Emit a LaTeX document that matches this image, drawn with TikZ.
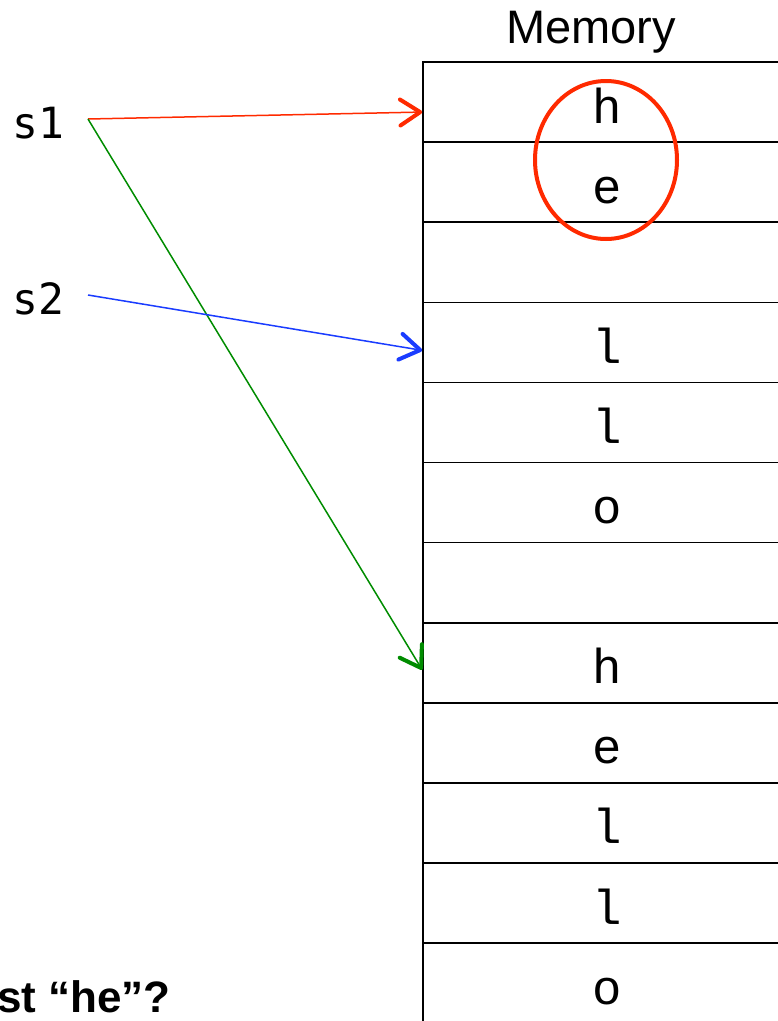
\documentclass[tikz,border=0pt]{standalone}
\usepackage{fontspec}
\setmainfont{Liberation Sans}
\newfontfamily\codefont{Liberation Mono}
\newfontfamily\varfont{DejaVu Sans Mono}
\usetikzlibrary{arrows.meta}
\definecolor{ptrred}{HTML}{FF2A00}
\definecolor{ptrblue}{HTML}{1A3CFF}
\definecolor{ptrgreen}{HTML}{008C00}
\begin{document}
\begin{tikzpicture}[x=1pt, y=-1pt,
    cell/.style={draw, line width=1.6pt, minimum width=368pt, minimum height=80.1pt,
      inner sep=0pt, text height=42pt, text depth=0pt,
      font=\codefont\fontsize{49}{52}\selectfont},
    var/.style={font=\varfont\fontsize{43}{46}\selectfont, anchor=base west, inner sep=0pt},
    ptr/.style={line width=1.5pt, -{Straight Barb[length=20pt, width=26pt, line width=4pt, round]}}]
  \useasboundingbox (0,0) rectangle (778,1021);

  \node (title) [font=\fontsize{47}{50}\selectfont, anchor=base] at (591,43) {Memory};

  % memory cells
  \foreach \ch [count=\i] in {h,e,{},l,l,o,{},h,e,l,l,o}
    \node (m\i) [cell] at (607, 62+80.1*\i-40.05) {\ch};

  \node (s1) [var] at (12,138) {s1};
  \node (s2) [var] at (12,314) {s2};
  \coordinate (p1) at (88,119);
  \coordinate (p2) at (88,295);

  \draw [ptr, ptrred] (p1) -- ([yshift=-10pt]m1.west);
  \draw [ptr, ptrgreen] (p1) -- ([yshift=-7pt]m8.west);
  \draw [ptr, ptrblue] (p2) -- ([yshift=-8pt]m4.west);

  \draw [ptrred, line width=4pt] (606,160) ellipse [x radius=71pt, y radius=79pt];

  \node (question) [font=\bfseries\fontsize{44}{48}\selectfont, anchor=base west, inner sep=0pt]
    at (-3,1012) {st “he”?};
\end{tikzpicture}
\end{document}
